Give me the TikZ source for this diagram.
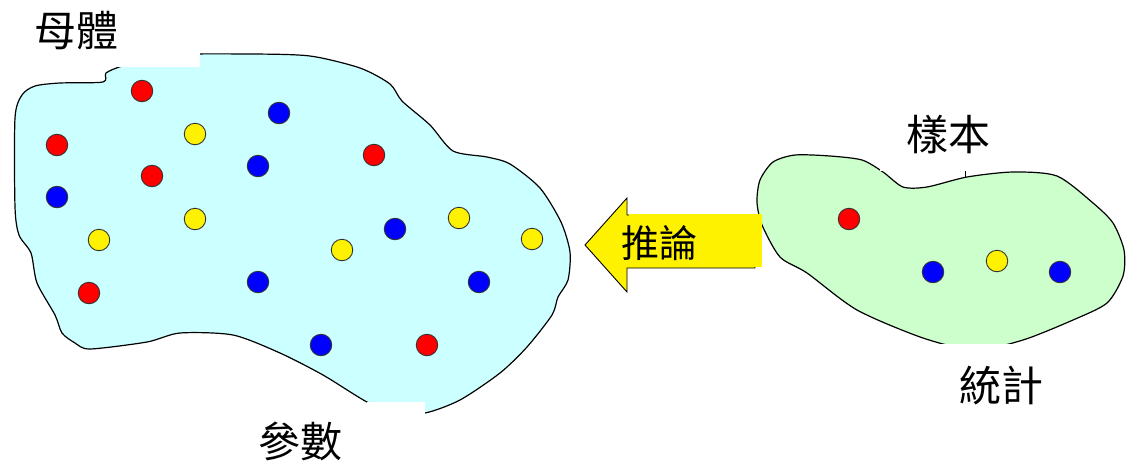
\documentclass[tikz,border=0pt]{standalone}
\usepackage{fontspec}
\newfontfamily\cjk{Noto Sans CJK TC}
\begin{document}
\begin{tikzpicture}[x=1pt,y=-1pt,
  dot/.style={circle,draw=black!80,line width=0.9pt,minimum size=21.5pt,inner sep=0pt},
  rd/.style={dot,fill=red},
  bl/.style={dot,fill=blue},
  yl/.style={dot,fill=yellow},
  lbl/.style={font=\cjk\fontsize{42}{50}\selectfont,inner sep=0pt},
  blob/.style={draw=black,line width=1.2pt}]
\useasboundingbox (0,0) rectangle (1127,464);
\fill[white] (0,0) rectangle (1127,464);
% population blob
\draw[blob,fill={rgb,255:red,204;green,255;blue,255}] plot[smooth cycle,tension=0.45] coordinates {
 (15,118) (22,95) (35,86) (60,83) (103,82) (106,73) (122,66) (160,55) (250,54) (310,56)
 (360,68) (390,84) (402,101) (430,125) (453,151) (487,157) (510,164) (540,188)
 (561,222) (570,252) (568,280) (558,297) (552,315) (527,347) (500,373) (460,400)
 (425,413) (395,412) (367,402) (323,375) (280,353) (233,335) (180,333) (147,342)
 (90,349) (75,343) (62,333) (55,315) (37,283) (31,253) (19,235) (15,207)};
% sample blob
\draw[blob,fill={rgb,255:red,204;green,255;blue,204}] plot[smooth cycle,tension=0.45] coordinates {
 (795,155) (773,162) (760,180) (757,202) (762,225) (780,257) (807,273) (857,310)
 (923,338) (975,350) (1023,340) (1073,320) (1107,303) (1123,276) (1124,250)
 (1113,223) (1093,203) (1057,176) (1013,172) (967,177) (927,187) (903,187)
 (883,172) (862,160) (830,156)};
% white text-box backgrounds
\fill[white] (20,0) rectangle (200,67);
\fill[white] (367,402) rectangle (425,464);
\fill[white] (880,100) rectangle (1000,171);
\fill[white] (935,344) rectangle (1025,464);
\draw[black,line width=0.8pt] (965,171) -- (965,178);
% dots population
\node[rd] (p1) at (142,91) {};
\node[bl] (p2) at (279,113) {};
\node[yl] (p3) at (195,134) {};
\node[rd] (p4) at (57,145) {};
\node[bl] (p5) at (258,166) {};
\node[rd] (p6) at (152,176) {};
\node[rd] (p7) at (374,155) {};
\node[bl] (p8) at (57,197) {};
\node[yl] (p9) at (195,219) {};
\node[bl] (p10) at (395,229) {};
\node[yl] (p11) at (459,218) {};
\node[yl] (p12) at (532,239) {};
\node[yl] (p13) at (99,240) {};
\node[yl] (p14) at (342,250) {};
\node[bl] (p15) at (258,282) {};
\node[bl] (p16) at (479,282) {};
\node[rd] (p17) at (89,293) {};
\node[bl] (p18) at (321,345) {};
\node[rd] (p19) at (427,345) {};
% dots sample
\node[rd] (s1) at (849,219) {};
\node[bl] (s2) at (933,272) {};
\node[yl] (s3) at (997,261) {};
\node[bl] (s4) at (1060,272) {};
% arrow
\draw[fill=yellow,draw=black,line width=0.9pt]
  (585,245) -- (627,198) -- (627,215) -- (755,215) -- (755,268) -- (627,268) -- (627,292) -- cycle;
\fill[yellow] (628.5,214) rectangle (762,266.5);
\node[lbl,font=\cjk\fontsize{38}{46}\selectfont] (inf) at (659,243) {推論};
% labels
\node[lbl] (pop) at (76,31) {母體};
\node[lbl] (par) at (300,441) {參數};
\node[lbl] (smp) at (948,135) {樣本};
\node[lbl] (stat) at (1001,386) {統計};
\end{tikzpicture}
\end{document}
